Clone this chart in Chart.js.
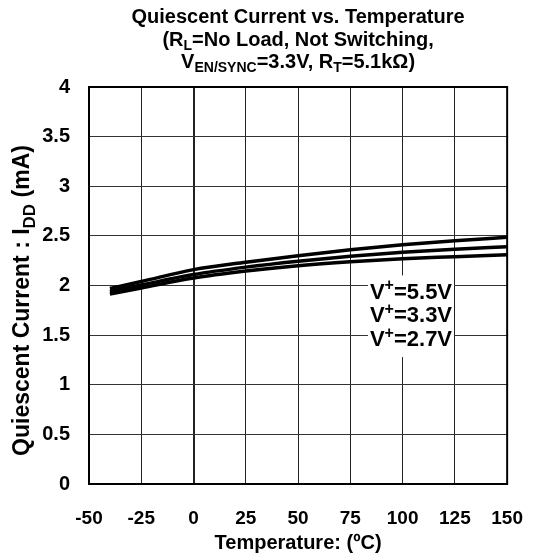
<!DOCTYPE html>
<html>
<head>
<meta charset="utf-8">
<script src="https://cdn.jsdelivr.net/npm/chart.js@4"></script>
<style>
  html, body { margin: 0; padding: 0; background: #fff; }
  #wrap { width: 546px; height: 555px; }
</style>
</head>
<body>
<div id="wrap"><canvas id="iqChart" width="546" height="555"></canvas></div>
<script>
// Quiescent current vs temperature
const temps = [-40, -25, 0, 25, 50, 75, 100, 125, 150];
const iq55 = [1.97, 2.04, 2.16, 2.235, 2.30, 2.36, 2.41, 2.45, 2.485];
const iq33 = [1.94, 2.005, 2.11, 2.185, 2.245, 2.295, 2.335, 2.365, 2.39];
const iq27 = [1.915, 1.975, 2.075, 2.145, 2.20, 2.24, 2.27, 2.29, 2.31];

const xTicks = [-50, -25, 0, 25, 50, 75, 100, 125, 150];
const yTicks = [0, 0.5, 1, 1.5, 2, 2.5, 3, 3.5, 4];
const seriesLabels = ['5.5V', '3.3V', '2.7V'];

const FONT = '"Liberation Sans", Arial, sans-serif';

// draws a row of text pieces, some of them as subscript/superscript
function drawRuns(ctx, runs, x, y, size, align) {
  const fontFor = (r) => `bold ${r.sub || r.sup ? Math.round(size * 0.72) : size}px ${FONT}`;
  let total = 0;
  runs.forEach((r) => { ctx.font = fontFor(r); total += ctx.measureText(r.t).width; });
  let cx = align === 'center' ? x - total / 2 : x;
  ctx.textAlign = 'left';
  ctx.textBaseline = 'middle';
  runs.forEach((r) => {
    ctx.font = fontFor(r);
    const dy = r.sub ? size * 0.3 : r.sup ? -size * 0.3 : 0;
    ctx.fillText(r.t, cx, y + dy);
    cx += ctx.measureText(r.t).width;
  });
  return total;
}

const textPlugin = {
  id: 'textPlugin',
  afterDraw(chart) {
    const { ctx, chartArea: a, scales } = chart;
    const midX = (a.left + a.right) / 2;
    ctx.save();
    ctx.fillStyle = '#000';

    // frame round the plot
    ctx.strokeStyle = '#000';
    ctx.lineWidth = 2;
    ctx.strokeRect(a.left, a.top, a.right - a.left, a.bottom - a.top);

    // title
    drawRuns(ctx, [{ t: 'Quiescent Current vs. Temperature' }], midX, 17, 20, 'center');
    drawRuns(ctx, [{ t: '(R' }, { t: 'L', sub: true }, { t: '=No Load, Not Switching,' }], midX, 40, 20, 'center');
    drawRuns(ctx, [{ t: 'V' }, { t: 'EN/SYNC', sub: true }, { t: '=3.3V, R' }, { t: 'T', sub: true }, { t: '=5.1kΩ)' }], midX, 62, 20, 'center');

    // x axis title
    drawRuns(ctx, [{ t: 'Temperature: (ºC)' }], midX, a.bottom + 59, 20, 'center');

    // y axis title
    ctx.save();
    ctx.translate(23, (a.top + a.bottom) / 2 + 15);
    ctx.rotate(-Math.PI / 2);
    drawRuns(ctx, [{ t: 'Quiescent Current : I' }, { t: 'DD', sub: true }, { t: ' (mA)' }], 0, 0, 23, 'center');
    ctx.restore();

    // labels for the three curves
    const lx = scales.x.getPixelForValue(104);
    const rows = [1.93, 1.69, 1.45].map((v) => scales.y.getPixelForValue(v));
    ctx.fillStyle = '#fff';
    ctx.fillRect(lx - 43, rows[0] - 17, 86, rows[2] - rows[0] + 34);
    ctx.fillStyle = '#000';
    seriesLabels.forEach((s, i) => {
      drawRuns(ctx, [{ t: 'V' }, { t: '+', sup: true }, { t: '=' + s }], lx, rows[i], 22, 'center');
    });
    ctx.restore();
  }
};

const toXY = (arr) => arr.map((v, i) => ({ x: temps[i], y: v }));
const curve = (label, arr) => ({
  label,
  data: toXY(arr),
  borderColor: '#000',
  borderWidth: 3.5,
  pointRadius: 0,
  fill: false,
  cubicInterpolationMode: 'monotone',
});

new Chart(document.getElementById('iqChart'), {
  type: 'line',
  data: {
    datasets: [
      curve('V+=5.5V', iq55),
      curve('V+=3.3V', iq33),
      curve('V+=2.7V', iq27),
    ]
  },
  options: {
    responsive: false,
    animation: false,
    layout: { padding: { top: 87, right: 20, left: 0, bottom: 0 } },
    plugins: { legend: { display: false }, title: { display: false }, tooltip: { enabled: false } },
    scales: {
      x: {
        type: 'linear',
        min: -50,
        max: 150,
        afterBuildTicks(scale) { scale.ticks = xTicks.map((v) => ({ value: v })); },
        afterFit(scale) { scale.height = 71; },
        border: { display: false },
        grid: {
          drawTicks: false,
          color: '#222',
          lineWidth: (c) => (c.tick && c.tick.value === 0 ? 2 : 1),
        },
        ticks: { color: '#000', padding: 23, font: { family: FONT, size: 19, weight: 'bold' } },
      },
      y: {
        min: 0,
        max: 4,
        afterBuildTicks(scale) { scale.ticks = yTicks.map((v) => ({ value: v })); },
        afterFit(scale) { scale.width = 89; },
        border: { display: false },
        grid: { drawTicks: false, color: '#333', lineWidth: 1 },
        ticks: {
          color: '#000',
          padding: 19,
          font: { family: FONT, size: 20, weight: 'bold' },
          callback(value) { return String(value); },
        },
      }
    }
  },
  plugins: [textPlugin]
});
</script>
</body>
</html>
